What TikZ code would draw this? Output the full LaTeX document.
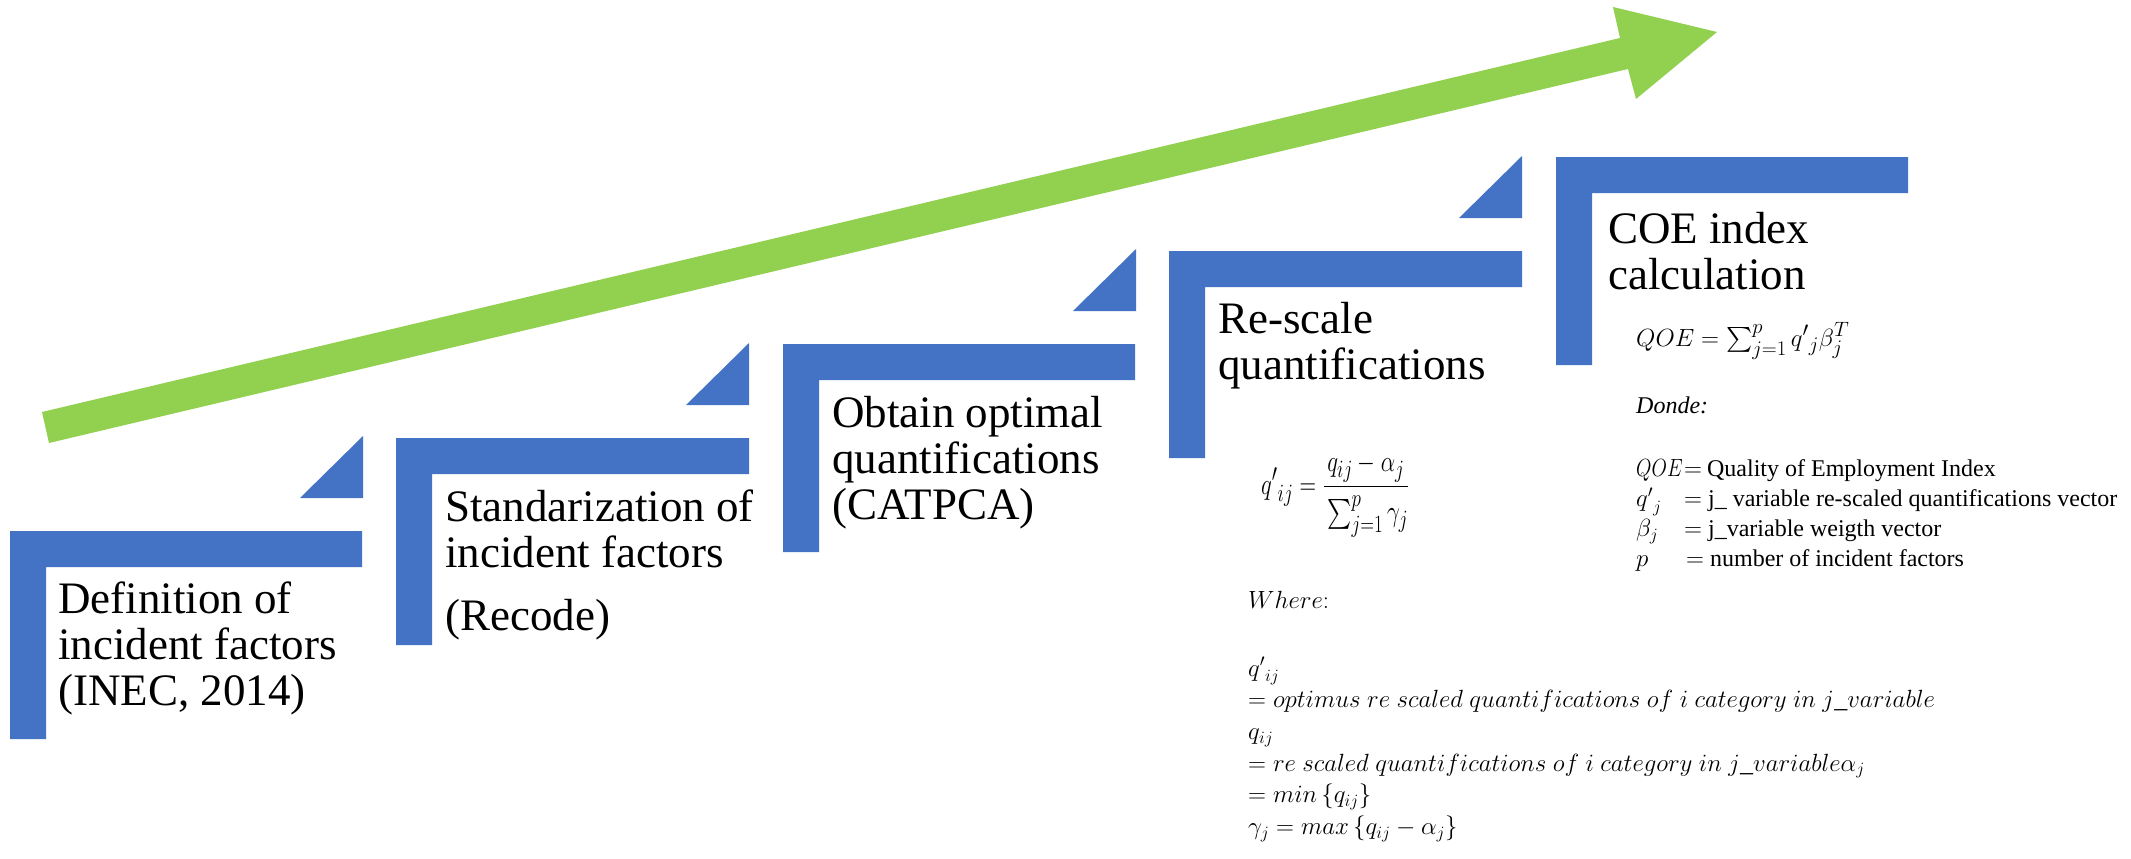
\documentclass[tikz,border=0pt]{standalone}
\usepackage{fontspec}
\setmainfont{Liberation Serif}
\usepackage{amsmath}
\usepackage{graphicx}
\definecolor{stepblue}{HTML}{4472C4}
\definecolor{arrowgreen}{HTML}{92D050}
\newcommand{\steplines}[1]{\begin{tabular}[t]{@{}l@{}}#1\end{tabular}}
\newcommand{\legsym}[1]{\makebox[48pt][l]{#1}}
\tikzset{
  stepshape/.style={fill=stepblue, draw=none},
  tipshape/.style={fill=stepblue, draw=none},
  arrowshape/.style={fill=arrowgreen, draw=none},
  steptxt/.style={anchor=base west, inner sep=0pt, font=\fontsize{45}{46}\selectfont},
  bigformula/.style={anchor=base west, inner sep=0pt, font=\fontsize{28}{33}\selectfont},
  legendtxt/.style={anchor=base west, inner sep=0pt, font=\fontsize{24}{30.3}\selectfont},
  wheretxt/.style={anchor=base west, inner sep=0pt, font=\fontsize{26}{31.7}\selectfont},
}
\begin{document}
\begin{tikzpicture}[x=1pt,y=-1pt]
\useasboundingbox (0,0) rectangle (2131,859);
\fill[white] (0,0) rectangle (2131,859);

% green arrow
\fill[arrowshape] (49,443) -- (42,412) -- (1620,38) -- (1613,7) -- (1717,32) -- (1636,99) -- (1628,69) -- cycle;

% L-shaped steps and triangles
\foreach \L/\T/\R/\B in {10/531/362/739, 396/438/749/645, 783/344/1135/552, 1169/251/1522/458, 1556/157/1908/365}{
  \fill[stepshape] (\L,\T) -- (\R,\T) -- (\R,\T+36) -- (\L+36,\T+36) -- (\L+36,\B) -- (\L,\B) -- cycle;
}
\foreach \R/\T in {363/531, 749/438, 1136/344, 1522/251}{
  \fill[tipshape] (\R,\T-95) -- (\R,\T-33) -- (\R-63,\T-33) -- cycle;
}

% step texts
\node[steptxt] (s1) at (58,613) {\steplines{Definition of\\incident factors\\(INEC, 2014)}};
\node[steptxt] (s2) at (445,521) {\steplines{Standarization of\\incident factors\\[17pt](Recode)}};
\node[steptxt] (s3) at (832,427) {\steplines{Obtain optimal\\quantifications\\(CATPCA)}};
\node[steptxt] (s4) at (1218,333) {\steplines{Re-scale\\quantifications}};
\node[steptxt] (s5) at (1608,243) {\steplines{COE index\\calculation}};

% formulas
\node[bigformula] (f4) at (1261,494) {\scalebox{0.92}[1.2]{$\displaystyle {q'}_{ij} = \frac{\rule{0pt}{21pt}q_{ij}-\alpha_j}{\rule{0pt}{26pt}\sum_{j=1}^{p}\gamma_j}$}};
\node[bigformula, font=\fontsize{32}{38}\selectfont] (f5) at (1636,346) {$QOE = \sum_{j=1}^{p} {q'}_j\beta_j^T$};

% legend in step 5
\node[legendtxt] (donde) at (1636,413) {\textit{Donde:}};
\node[legendtxt] (legend) at (1636,476) {\begin{tabular}[t]{@{}l@{}}
\legsym{\scalebox{0.8}[1]{$QOE$}}$=$\hspace{5pt}Quality of Employment Index\\
\legsym{${q'}_j$}$=$ j\_ variable re-scaled quantifications vector\\
\legsym{$\beta_j$}$=$ j\_variable weigth vector\\
\legsym{$p$}\hspace{2pt}$=$ number of incident factors
\end{tabular}};

% where block
\node[wheretxt] (where) at (1248,608) {\steplines{$Where{:}$\\ \\[4.6pt]
${q'}_{ij}$\\
$= optimus\ re\ scaled\ quantifications\ of\ i\ category\ in\ j\_variable$\\
$q_{ij}$\\
$= re\ scaled\ quantifications\ of\ i\ category\ in\ j\_variable\alpha_j$\\
$= min\left\{q_{ij}\right\}$\\
$\gamma_j = max\left\{q_{ij}-\alpha_j\right\}$}};
\end{tikzpicture}
\end{document}
